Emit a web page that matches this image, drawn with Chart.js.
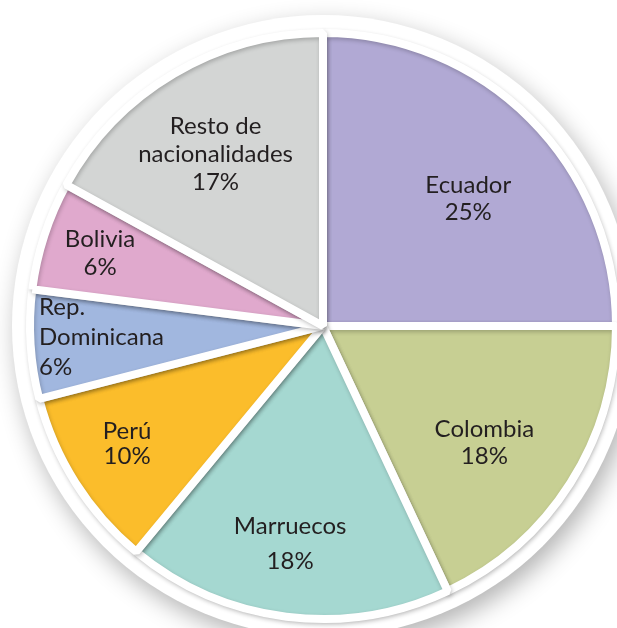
<!DOCTYPE html>
<html>
<head>
<meta charset="utf-8">
<script src="https://cdn.jsdelivr.net/npm/chart.js@4/dist/chart.umd.min.js"></script>
<style>
html,body{margin:0;padding:0;background:#fff}
#wrap{width:617px;height:628px}
</style>
</head>
<body>
<div id="wrap"><canvas id="chart" width="617" height="628"></canvas></div>
<script>
// población extranjera por nacionalidad (%)
const paises = [
  ["Ecuador"],
  ["Colombia"],
  ["Marruecos"],
  ["Perú"],
  ["Rep.", "Dominicana"],
  ["Bolivia"],
  ["Resto de", "nacionalidades"]
]
const porcentajes = [25, 18, 18, 10, 6, 6, 17]
const colores = ["#b1a9d4", "#c7cf93", "#a5d8d1", "#fbbd2b", "#a1b7df", "#e0a9cd", "#d3d5d4"]

// where each label sits: fraction of radius, angle shift (deg), alignment, line gap
const etiquetas = [
  {r: 0.66, da: 3.7, align: "center", gap: 27},
  {r: 0.68, da: 3.5, align: "center", gap: 27},
  {r: 0.75, da: 1.4, align: "center", gap: 35},
  {r: 0.78, da: 1.4, align: "center", gap: 25},
  {r: 0.97, da: 1.4, align: "left", gap: 30},
  {r: 0.80, da: 0, align: "center", gap: 28},
  {r: 0.69, da: -1.5, align: "center", gap: 28}
]

const FONT = "24px Lato"

// white disc with soft shadow behind the slices
const discoFondo = {
  id: "discoFondo",
  beforeDatasetsDraw(chart){
    const arc = chart.getDatasetMeta(0).data[0]
    if(!arc) return
    const ctx = chart.ctx
    ctx.save()
    ctx.shadowColor = "rgba(0,0,0,0.3)"
    ctx.shadowBlur = 24
    ctx.shadowOffsetX = 5
    ctx.shadowOffsetY = 9
    ctx.fillStyle = "#ffffff"
    ctx.beginPath()
    ctx.arc(arc.x, arc.y, arc.outerRadius + 18, 0, Math.PI * 2)
    ctx.fill()
    ctx.restore()
    // faint grey edge along the gaps between slices
    ctx.save()
    ctx.shadowColor = "rgba(0,0,0,0.22)"
    ctx.shadowBlur = 4
    ctx.shadowOffsetX = 1
    ctx.shadowOffsetY = 2
  },
  afterDatasetsDraw(chart){
    chart.ctx.restore()
  }
}

// category name and percentage inside each slice
const textos = {
  id: "textos",
  afterDatasetsDraw(chart){
    const ctx = chart.ctx
    const meta = chart.getDatasetMeta(0)
    ctx.save()
    ctx.font = FONT
    ctx.fillStyle = "#231f20"
    ctx.textBaseline = "middle"
    meta.data.forEach((arc, i) => {
      const e = etiquetas[i]
      const ang = (arc.startAngle + arc.endAngle) / 2 + e.da * Math.PI / 180
      const rr = arc.outerRadius * e.r
      const x = arc.x + Math.cos(ang) * rr
      const y = arc.y + Math.sin(ang) * rr
      const lines = paises[i].concat([porcentajes[i] + "%"])
      const y0 = y - (lines.length - 1) * e.gap / 2
      ctx.textAlign = e.align
      lines.forEach((t, k) => ctx.fillText(t, x, y0 + k * e.gap))
    })
    ctx.restore()
  }
}

new Chart(document.getElementById("chart"), {
  type: "pie",
  data: {
    labels: paises,
    datasets: [{
      data: porcentajes,
      backgroundColor: colores,
      borderColor: "#ffffff",
      borderWidth: 8
    }]
  },
  options: {
    responsive: false,
    animation: false,
    radius: 293,
    layout: {padding: {left: 29, right: 0, top: 24, bottom: 0}},
    plugins: {
      legend: {display: false},
      tooltip: {enabled: false}
    }
  },
  plugins: [discoFondo, textos]
})
</script>
</body>
</html>
